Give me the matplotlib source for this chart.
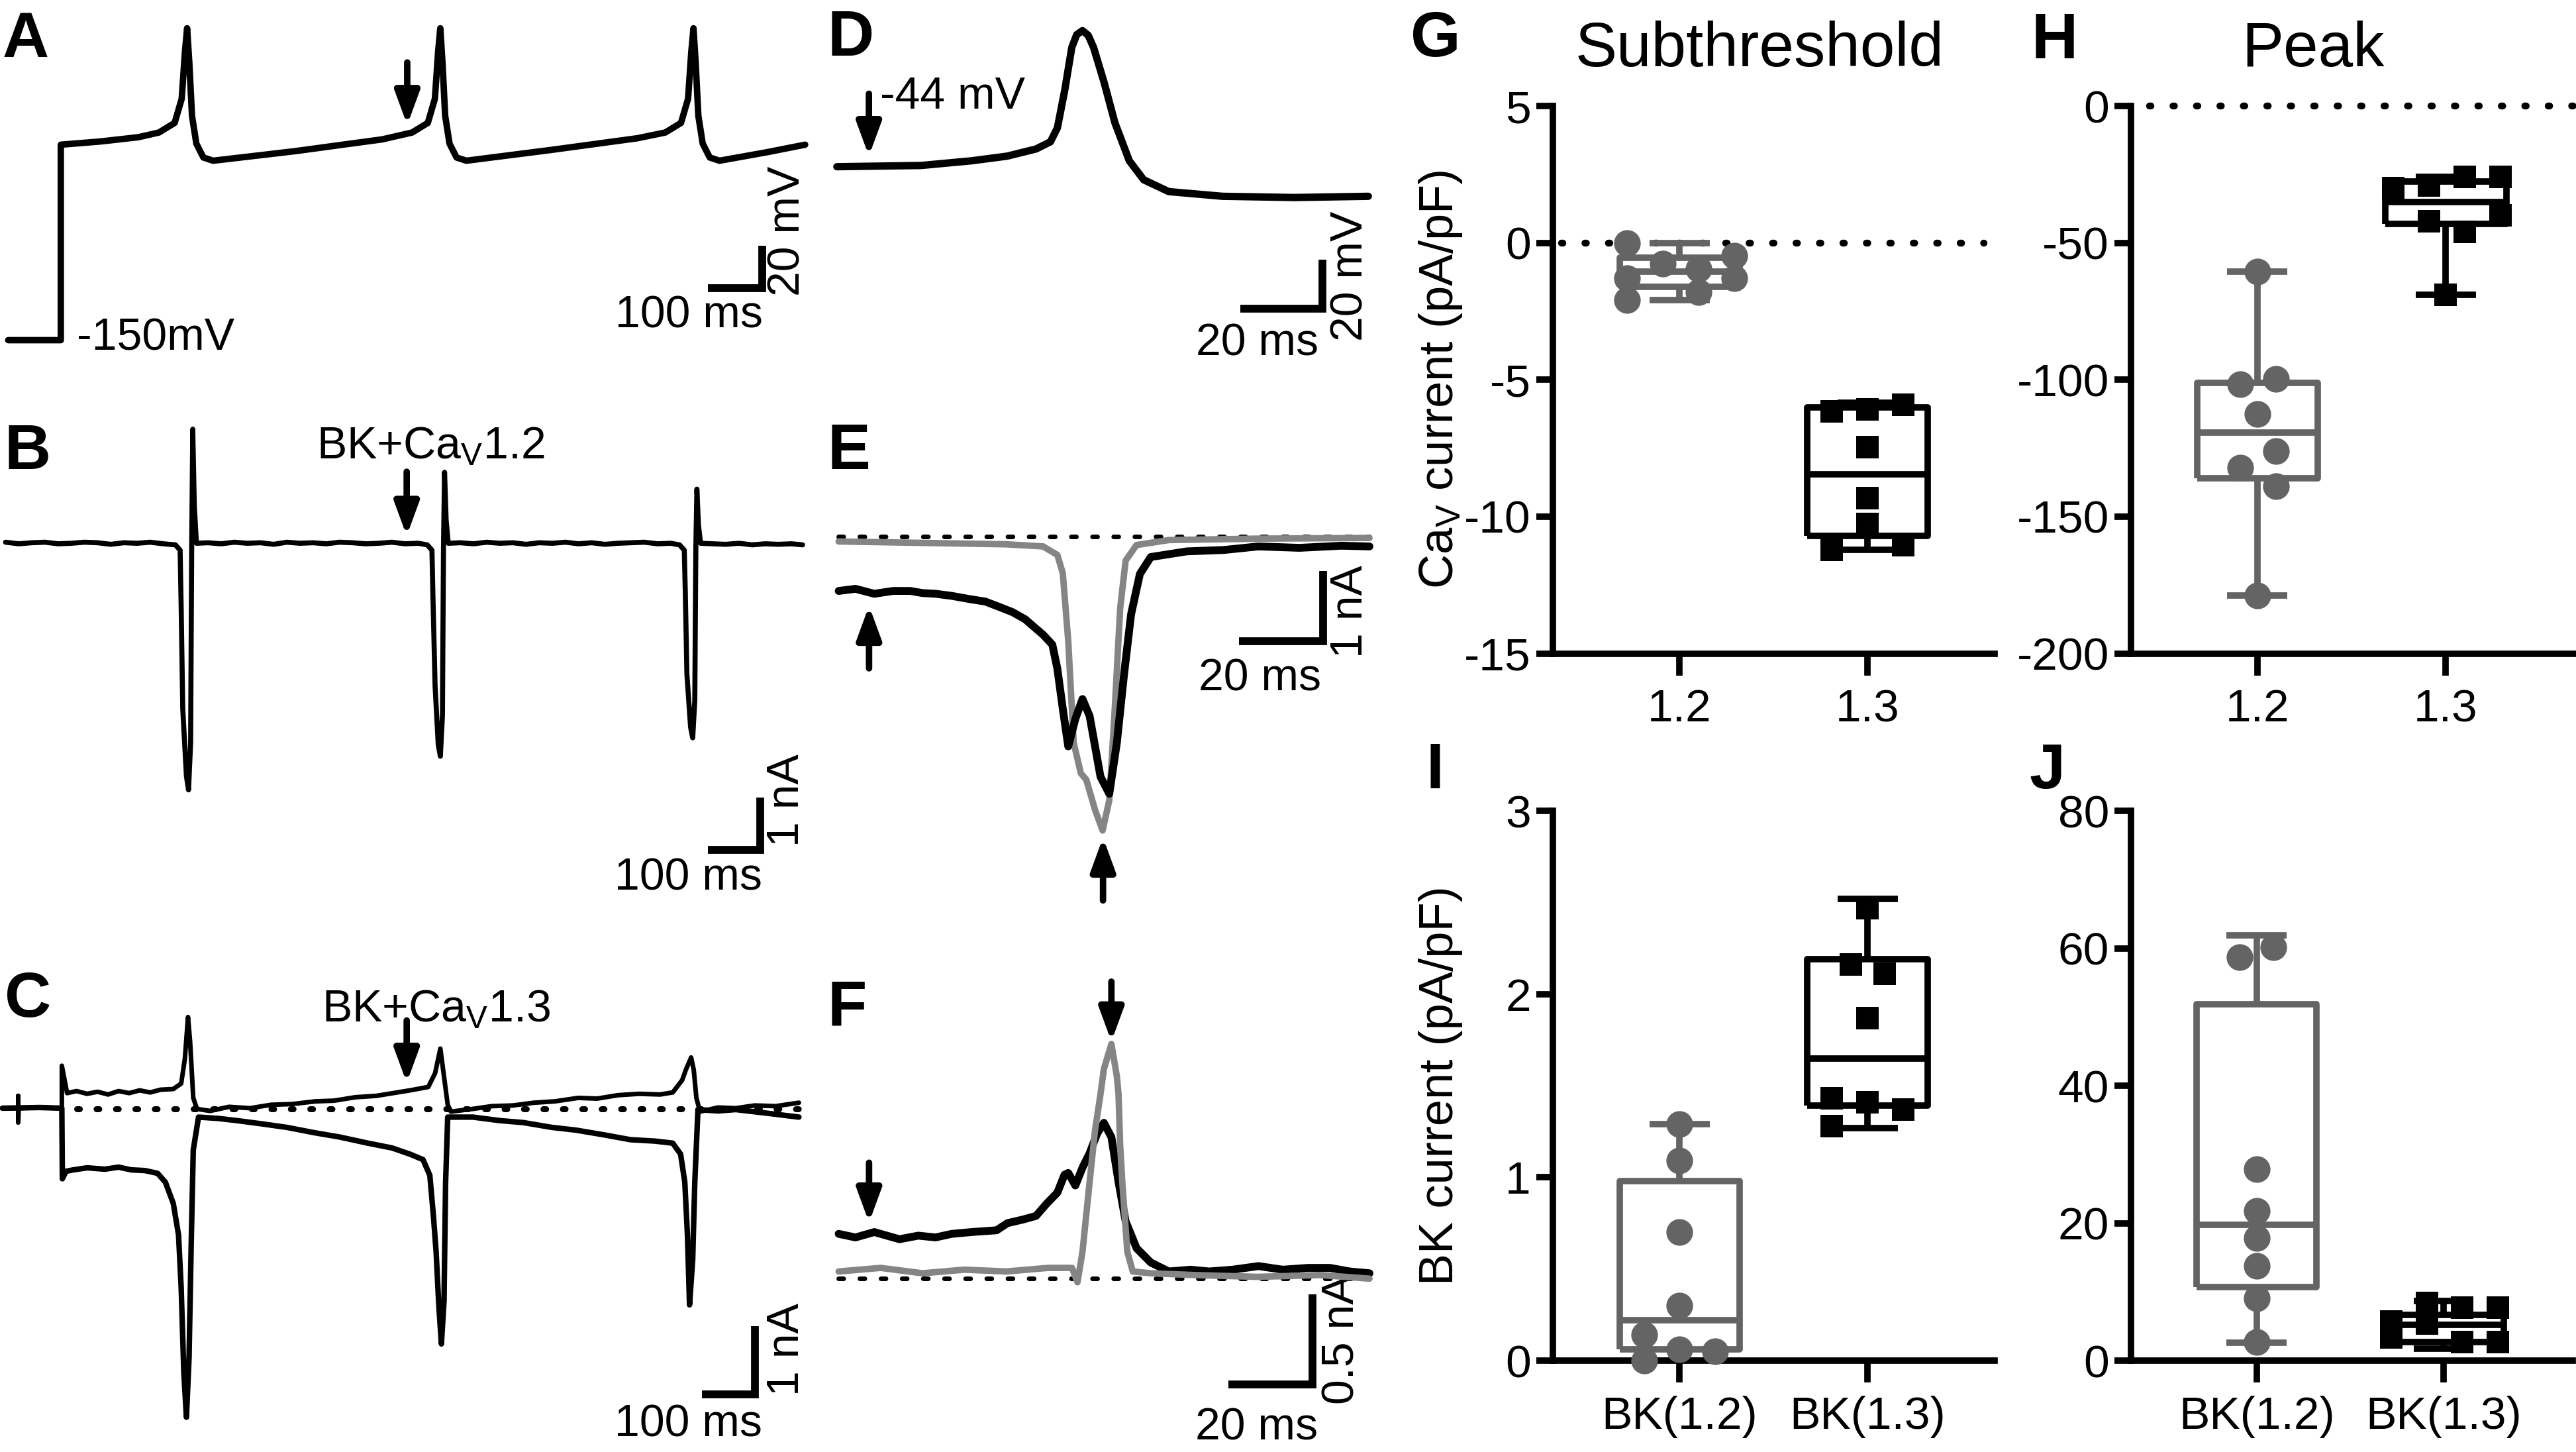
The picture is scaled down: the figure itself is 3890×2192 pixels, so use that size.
import matplotlib
matplotlib.use('Agg')
import matplotlib.pyplot as plt

plt.rcParams['font.family'] = ['Liberation Sans', 'DejaVu Sans']
plt.rcParams['axes.unicode_minus'] = False
plt.rcParams['mathtext.fontset'] = 'custom'
plt.rcParams['mathtext.rm'] = 'Liberation Sans'
plt.rcParams['mathtext.it'] = 'Liberation Sans:italic'
plt.rcParams['mathtext.bf'] = 'Liberation Sans:bold'

# ---------------- data ----------------
# A: current clamp, time (ms) / membrane potential (mV)
A_t = [0, 97, 97, 170, 240, 278, 307, 320, 326, 330, 334, 339, 347, 360, 378, 530, 690,
       745, 774, 787, 793, 797, 801, 806, 814, 827, 845, 1000, 1160,
       1212, 1241, 1254, 1260, 1264, 1268, 1273, 1281, 1294, 1312, 1400, 1470]
A_v = [-150, -150, -58.5, -57.0, -55.0, -52.8, -48.3, -37.0, -15.0, -4.0, -20.0, -45.0, -58.0,
       -64.5, -66.0, -61.5, -56.0, -52.8, -48.3, -37.0, -15.0, -4.0, -20.0, -45.0, -58.0, -64.5,
       -66.0, -61.0, -55.5, -52.8, -48.3, -37.0, -15.0, -4.0, -20.0, -45.0, -58.0, -64.5, -66.0,
       -62.0, -58.5]

# B: AP-clamp current, BK + CaV1.2 (nA)
B_t = [-5, 20, 45, 70, 95, 120, 145, 170, 195, 220, 245, 270, 295,
       318, 327, 329, 332, 339, 343, 347, 348, 349, 351, 354, 358,
       380, 405, 430, 455, 480, 505, 530, 555, 580, 605, 630, 655, 680, 705, 730, 755, 780,
       797, 806, 808, 812, 818, 822, 826, 827, 828, 830, 833, 837,
       860, 885, 910, 935, 960, 985, 1010, 1035, 1060, 1085, 1110, 1135, 1160, 1185, 1210, 1235, 1260,
       1277, 1286, 1288, 1291, 1298, 1302, 1306, 1307, 1308, 1310, 1313, 1317,
       1340, 1365, 1390, 1415, 1440, 1465, 1490, 1511]
B_i = [0.02, -0.01, 0.01, 0.02, -0.01, 0.0, 0.02, 0.01, -0.02, 0.01, 0.0, 0.02, -0.01,
       -0.03, -0.13, -1.22, -3.15, -4.43, -4.69, -3.79, -1.87, -0.07, 2.17, 0.71, 0.0,
       0.01, -0.01, 0.02, 0.0, 0.01, -0.02, 0.02, 0.0, 0.01, -0.01, 0.02, 0.01, -0.01, 0.0,
       0.02, -0.01, 0.0,
       -0.03, -0.13, -1.05, -2.72, -3.83, -4.05, -3.27, -1.61, -0.07, 1.35, 0.44, 0.0,
       0.01, -0.01, 0.02, 0.0, 0.01, -0.02, 0.01, 0.0, 0.02, -0.01, 0.01, -0.02, 0.0, 0.01,
       0.02, -0.01, 0.0,
       -0.03, -0.13, -0.96, -2.49, -3.50, -3.70, -2.99, -1.48, -0.07, 1.03, 0.34, 0.0,
       -0.01, -0.02, 0.0, -0.03, -0.01, -0.02, -0.01, -0.03]

# C: AP-clamp currents, BK + CaV1.3 (two sweeps, nA)
C1_t = [-11, 14, 19, 19, 19, 20, 60, 102, 102, 112, 130, 150, 170, 190, 210, 230, 250, 270, 290,
        314, 329, 336, 342, 346, 352, 359, 384, 420, 460, 500, 540, 584, 620, 660, 700, 740, 764,
        799, 812, 822, 829, 836, 842, 884, 920, 960, 1000, 1040, 1084, 1120, 1160, 1200, 1240,
        1264, 1282, 1289, 1299, 1304, 1309, 1316, 1350, 1384, 1420, 1460, 1504]
C1_i = [0.01, 0.01, 0.01, 0.19, -0.20, 0.01, 0.02, 0.01, 0.63, 0.23, 0.26, 0.22, 0.25, 0.21, 0.26,
        0.23, 0.27, 0.24, 0.28, 0.29, 0.37, 0.73, 1.34, 0.98, 0.16, 0.00, -0.03, 0.03, 0.01, 0.06,
        0.07, 0.11, 0.12, 0.17, 0.19, 0.24, 0.27, 0.32, 0.52, 0.88, 0.47, 0.06, -0.04, 0.00, 0.04,
        0.05, 0.09, 0.11, 0.16, 0.15, 0.20, 0.22, 0.21, 0.24, 0.42, 0.57, 0.75, 0.57, 0.16, -0.04,
        0.02, 0.01, 0.05, 0.04, 0.09]
C2_t = [-11, 60, 102, 103, 110, 124, 150, 184, 210, 234, 260, 284, 299, 314, 324, 329, 334, 339,
        344, 348, 352, 362, 400, 434, 484, 530, 584, 630, 684, 730, 764, 789, 802, 809, 814, 819,
        824, 829, 832, 836, 884, 934, 980, 1034, 1080, 1134, 1184, 1230, 1264, 1279, 1287, 1292,
        1296, 1302, 1306, 1312, 1350, 1384, 1440, 1504]
C2_i = [0.01, 0.02, 0.01, -1.02, -0.91, -0.89, -0.86, -0.88, -0.85, -0.89, -0.90, -0.94, -1.07,
        -1.38, -1.84, -2.61, -3.84, -4.50, -3.63, -2.00, -0.60, -0.12, -0.14, -0.17, -0.22, -0.27,
        -0.35, -0.41, -0.50, -0.57, -0.66, -0.74, -0.97, -1.58, -2.09, -2.86, -3.43, -2.80, -1.07,
        -0.12, -0.12, -0.17, -0.20, -0.27, -0.31, -0.38, -0.45, -0.47, -0.50, -0.66, -1.07, -1.84,
        -2.86, -2.20, -1.07, -0.01, -0.03, -0.01, -0.06, -0.12]

# D: single AP waveform (ms / mV)
D_t = [0, 20.5, 32.8, 41.5, 48.5, 52, 53.7, 55.5, 57.2, 58.4, 59.8, 61.2, 62.5, 65.1, 67.7,
       71.2, 74.7, 80.8, 93.9, 111.4, 129.4]
D_v = [-44.5, -44.0, -42.1, -40.2, -37.3, -34.4, -28.7, -13.3, 3.9, 9.1, 10.7, 8.8, 3.9, -10.5,
       -26.7, -42.1, -49.8, -54.6, -56.5, -57.0, -56.5]

# E: CaV currents during the AP (grey = CaV1.2, black = CaV1.3), nA
E_gray_t = [0, 20, 40, 48.8, 52.2, 53.5, 54.8, 56.1, 57.8, 59.1, 61.2, 63.0, 64.6, 65.9, 67.2,
            68.5, 71.1, 78.8, 100, 126.7]
E_gray_i = [-0.07, -0.09, -0.11, -0.14, -0.26, -0.52, -1.48, -2.92, -3.35, -3.44, -3.87, -4.16,
            -3.73, -2.44, -1.01, -0.34, -0.12, -0.05, -0.03, -0.02]
E_blk_t = [0, 4, 8.5, 13, 17.1, 20, 23.1, 27, 31.7, 35, 38.5, 41.5, 44.5, 48.8, 51.0, 52.2, 53.5,
           54.8, 56.5, 58.2, 59.9, 62.5, 64.6, 66.4, 68.1, 69.8, 71.9, 74.5, 83.1, 92, 100.2, 110,
           120, 126.7]
E_blk_i = [-0.77, -0.74, -0.81, -0.77, -0.77, -0.80, -0.81, -0.84, -0.89, -0.92, -1.00, -1.07,
           -1.17, -1.39, -1.53, -1.87, -2.44, -2.97, -2.58, -2.30, -2.54, -3.40, -3.64, -2.92,
           -1.96, -1.10, -0.53, -0.29, -0.21, -0.19, -0.14, -0.16, -0.13, -0.14]

# F: BK currents during the AP (grey = with CaV1.2, black = with CaV1.3), nA
F_gray_t = [0, 10, 20, 30, 40, 50, 55.7, 57.0, 58.2, 59.9, 61.2, 62.5, 63.3, 65.1, 66.4, 66.8,
            67.2, 67.7, 68.9, 70.2, 74.5, 85, 100, 115, 126.7]
F_gray_i = [0.04, 0.06, 0.03, 0.05, 0.04, 0.06, 0.06, -0.02, 0.15, 0.54, 0.83, 1.03, 1.17, 1.31,
            1.13, 1.03, 0.74, 0.54, 0.15, 0.04, 0.03, 0.02, 0.01, 0.02, 0.00]
F_blk_t = [0, 4, 8.5, 14.5, 19, 23.1, 27, 31.7, 37.7, 40.3, 44, 47.1, 49.7, 52.2, 53.9, 54.8,
           56.5, 58.2, 59.9, 61.7, 63.3, 65.1, 66.8, 68.5, 71.1, 74.5, 78.8, 84, 88.4, 94, 100.2,
           106, 112, 117.3, 122, 126.7]
F_blk_i = [0.25, 0.23, 0.26, 0.22, 0.24, 0.23, 0.25, 0.26, 0.27, 0.31, 0.33, 0.35, 0.42, 0.48,
           0.58, 0.59, 0.52, 0.62, 0.70, 0.81, 0.87, 0.79, 0.54, 0.32, 0.17, 0.09, 0.04, 0.05,
           0.04, 0.05, 0.07, 0.05, 0.06, 0.06, 0.04, 0.03]

# G-J: box plots (points + min/max whisker box stats), pA/pF
cat_gh = ['1.2', '1.3']
cat_ij = ['BK(1.2)', 'BK(1.3)']

G12 = [0.0, -0.48, -0.77, -0.94, -1.28, -1.28, -1.80, -2.08]
G13 = [-6.16, -6.08, -5.91, -7.45, -9.33, -10.27, -11.04, -11.22]
G_stats = [dict(whislo=-2.08, q1=-1.60, med=-1.05, q3=-0.55, whishi=0.0),
           dict(whislo=-11.2, q1=-10.7, med=-8.45, q3=-6.0, whishi=-5.85)]

H12 = [-60.4, -101.5, -99.8, -112.6, -126.1, -132.1, -138.9, -178.8]
H13 = [-30, -29, -42, -26, -46, -26, -40, -69]
H_stats = [dict(whislo=-178.8, q1=-136.0, med=-119.4, q3=-101.2, whishi=-60.4),
           dict(whislo=-69.0, q1=-43.0, med=-35.0, q3=-27.7, whishi=-26.0)]

I12 = [1.29, 1.09, 0.70, 0.30, 0.14, 0.0, 0.06, 0.05]
I13 = [2.47, 2.16, 2.11, 1.87, 1.43, 1.41, 1.37, 1.28]
I_stats = [dict(whislo=0.0, q1=0.06, med=0.22, q3=0.98, whishi=1.29),
           dict(whislo=1.27, q1=1.39, med=1.65, q3=2.19, whishi=2.52)]

J12 = [58.7, 60.1, 27.9, 21.8, 17.8, 13.8, 9.1, 2.7]
J13 = [5.7, 3.4, 8.4, 5.4, 7.7, 2.7, 7.7, 2.7]
J_stats = [dict(whislo=2.6, q1=10.7, med=19.8, q3=51.9, whishi=61.9),
           dict(whislo=1.7, q1=2.7, med=5.2, q3=6.7, whishi=8.7)]

# horizontal scatter of the dots inside each group (category units)
G12_dx = [-0.28, 0.29, -0.09, 0.10, 0.29, -0.28, 0.10, -0.28]
G13_dx = [-0.19, 0.0, 0.19, 0.0, 0.0, 0.0, 0.19, -0.19]
H12_dx = [0.0, -0.09, 0.10, 0.0, 0.10, -0.09, 0.10, 0.0]
H13_dx = [-0.28, -0.09, -0.09, 0.10, 0.10, 0.29, 0.29, 0.0]
I12_dx = [0.0, 0.0, 0.0, 0.0, -0.19, -0.19, 0.0, 0.19]
I13_dx = [0.0, -0.09, 0.09, 0.0, -0.19, 0.0, 0.19, -0.19]
J12_dx = [-0.09, 0.09, 0.0, 0.0, 0.0, 0.0, 0.0, 0.0]
J13_dx = [-0.28, -0.28, -0.09, -0.09, 0.10, 0.10, 0.29, 0.29]

# ---------------- styling ----------------
GREY = '#646464'
TRACE_GREY = '#858585'
TS = 49          # trace annotation font size
TICK_FS = 50
BOX_LW = 7

WM, HM = 1568.0, 883.6   # layout grid (reference pixels at 1/2.48 scale)
fig = plt.figure(figsize=(38.9, 21.92), dpi=100)


def frac_box(x0, y0, x1, y1):
    return [x0 / WM, 1 - y1 / HM, (x1 - x0) / WM, (y1 - y0) / HM]


def ftext(x, y, s, **kw):
    fig.text(x / WM, 1 - y / HM, s, **kw)


def trace_ax(box, x_ref, px_per_t, y_ref, v_ref, px_per_v):
    x0, y0, x1, y1 = box
    ax = fig.add_axes(frac_box(*box))
    ax.set_xlim((x0 - x_ref) / px_per_t, (x1 - x_ref) / px_per_t)
    ax.set_ylim(v_ref + (y_ref - y1) / px_per_v, v_ref + (y_ref - y0) / px_per_v)
    ax.axis('off')
    return ax


def trace(ax, t, v, color='k', lw=5.0, z=3):
    ax.plot(t, v, color=color, lw=lw, solid_joinstyle='round', solid_capstyle='round',
            zorder=z, clip_on=False)


def dotted(ax, x, y, lw, on, off):
    ax.plot(x, y, color='k', lw=lw, ls=(0, (on, off)), dash_capstyle='round', zorder=2,
            clip_on=False)


def scale_bar(ax, t0, t1, v0, v1, xlab, xpos, ylab, ypos):
    ax.plot([t0, t1, t1], [v0, v0, v1], color='k', lw=8.5, solid_capstyle='butt',
            solid_joinstyle='miter', clip_on=False)
    ax.text(xpos[0], xpos[1], xlab, ha='center', va='center', fontsize=TS)
    ax.text(ypos[0], ypos[1], ylab, ha='center', va='center', rotation=90, fontsize=TS)


def arrow(ax, x, y_tail, y_tip):
    ax.annotate('', xy=(x, y_tip), xytext=(x, y_tail), annotation_clip=False,
                arrowprops=dict(arrowstyle='-|>,head_length=30,head_width=11', mutation_scale=1,
                                lw=7, color='k', shrinkA=0, shrinkB=0))


# ---------------- A ----------------
axA = trace_ax((0, 0, 500, 225), 5, 0.33, 207, -150, 1.3)
trace(axA, A_t, A_v, lw=7)
arrow(axA, 736, -20, -49.3)
axA.text(127, -149, '-150mV', ha='left', va='center', fontsize=TS)
scale_bar(axA, 1291, 1391, -125.8, -105.8, '100 ms', (1256, -138.5), '20 mV', (1438, -98.8))

# ---------------- B ----------------
axB = trace_ax((0, 240, 500, 548), 5, 0.32, 330.6, 0, 32)
trace(axB, B_t, B_i, lw=5.5)
arrow(axB, 758, 1.36, 0.14)
axB.text(587, 1.61, r'BK+Ca$_\mathregular{V}$1.2', ha='left', va='baseline', fontsize=TS)
scale_bar(axB, 1331, 1431, -5.83, -4.83, '100 ms', (1294, -6.36), '1 nA', (1481, -4.89))

# ---------------- C ----------------
axC = trace_ax((0, 548, 500, 883.6), 5, 0.32, 674.8, 0, 41.7)
dotted(axC, [131, 1522], [0, 0], 6.5, 0.45, 2.8)
trace(axC, C2_t, C2_i, lw=6)
trace(axC, C1_t, C1_i, lw=5)
arrow(axC, 758, 1.29, 0.38)
axC.text(597, 1.27, r'BK+Ca$_\mathregular{V}$1.3', ha='left', va='baseline', fontsize=TS)
scale_bar(axC, 1320, 1420, -4.17, -3.17, '100 ms', (1294, -4.61), '1 nA', (1481, -3.51))

# ---------------- D ----------------
axD = trace_ax((500, 0, 840, 235), 509.4, 2.5, 100.7, -44, 1.5)
trace(axD, D_t, D_v, lw=8)
arrow(axD, 7.8, -14.9, -40.2)
axD.text(10.5, -16.2, '-44 mV', ha='left', va='center', fontsize=TS)
scale_bar(axD, 98.3, 118.3, -102.1, -82.1, '20 ms', (102.4, -116.2), '20 mV', (125.0, -88.9))

# ---------------- E ----------------
axE = trace_ax((500, 240, 840, 560), 510.5, 2.55, 326.5, 0, 43)
dotted(axE, [0, 126.7], [0, 0], 5, 1.1, 3.5)
trace(axE, E_gray_t, E_gray_i, color=TRACE_GREY, lw=7, z=3)
trace(axE, E_blk_t, E_blk_i, lw=8.5, z=4)
arrow(axE, 7.25, -1.865, -0.98)
arrow(axE, 63.1, -5.15, -4.26)
scale_bar(axE, 95.6, 115.6, -1.484, -0.484, '20 ms', (100.5, -2.01), '1 nA', (122.1, -1.06))

# ---------------- F ----------------
axF = trace_ax((500, 580, 840, 883.6), 510.5, 2.55, 778.1, 0, 109)
dotted(axF, [0, 126.7], [0, 0], 5, 1.1, 3.5)
trace(axF, F_blk_t, F_blk_i, lw=8.5, z=3)
trace(axF, F_gray_t, F_gray_i, color=TRACE_GREY, lw=7, z=4)
arrow(axF, 65.1, 1.658, 1.324)
arrow(axF, 7.25, 0.647, 0.313)
scale_bar(axF, 93.1, 113.1, -0.589, -0.089, '20 ms', (99.8, -0.834), '0.5 nA', (120.2, -0.339))


# ---------------- box plots ----------------
def box_ax(box, xlim, ylim, yticks, ylabels, xlabels):
    ax = fig.add_axes(frac_box(*box))
    ax.set_xlim(*xlim)
    ax.set_ylim(*ylim)
    for s in ('top', 'right'):
        ax.spines[s].set_visible(False)
    for s in ('left', 'bottom'):
        ax.spines[s].set_linewidth(7)
    ax.set_yticks(yticks)
    ax.set_yticklabels(ylabels)
    ax.set_xticks([1, 2])
    ax.set_xticklabels(xlabels)
    ax.tick_params(axis='both', width=7, labelsize=TICK_FS, colors='k')
    ax.tick_params(axis='y', length=18, pad=6)
    ax.tick_params(axis='x', length=24, pad=14)
    return ax


def groups(ax, stats, v12, dx12, v13, dx13):
    for pos, st, col in ((1, stats[0], GREY), (2, stats[1], 'k')):
        s = dict(st, fliers=[])
        lp = dict(color=col, lw=BOX_LW, solid_capstyle='butt')
        ax.bxp([s], positions=[pos], widths=0.64, capwidths=0.32, showfliers=False,
               boxprops=lp, whiskerprops=lp, capprops=lp, medianprops=lp, manage_ticks=False)
    ax.plot([1 + d for d in dx12], v12, ls='none', marker='o', ms=29, mfc=GREY, mec=GREY,
            mew=0, zorder=5, clip_on=False)
    ax.plot([2 + d for d in dx13], v13, ls='none', marker='s', ms=24, mfc='k', mec='k',
            mew=0, zorder=5, clip_on=False)


axG = box_ax((945.3, 64.5, 1214, 397.7), (0.326, 2.675), (-15, 5),
             [5, 0, -5, -10, -15], ['5', '0', '-5', '-10', '-15'], cat_gh)
dotted(axG, [0.37, 2.62], [0, 0], 7.5, 0.2, 3.2)
groups(axG, G_stats, G12, G12_dx, G13, G13_dx)

axH = box_ax((1297.3, 64.5, 1568, 397.7), (0.332, 2.69), (-200, 0),
             [0, -50, -100, -150, -200], ['0', '-50', '-100', '-150', '-200'], cat_gh)
dotted(axH, [0.43, 2.69], [0, 0], 7.5, 0.2, 3.2)
groups(axH, H_stats, H12, H12_dx, H13, H13_dx)

axI = box_ax((945.3, 493.4, 1214, 828), (0.326, 2.675), (0, 3),
             [0, 1, 2, 3], ['0', '1', '2', '3'], cat_ij)
groups(axI, I_stats, I12, I12_dx, I13, I13_dx)

axJ = box_ax((1297.3, 493.4, 1566, 828), (0.33, 2.69), (0, 80),
             [0, 20, 40, 60, 80], ['0', '20', '40', '60', '80'], cat_ij)
groups(axJ, J_stats, J12, J12_dx, J13, J13_dx)

ftext(877, 231, r'Ca$_\mathregular{V}$ current (pA/pF)', rotation=90, ha='center', va='center',
      fontsize=52)
ftext(877, 660.7, 'BK current (pA/pF)', rotation=90, ha='center', va='center', fontsize=52)
ftext(1071, 40.3, 'Subthreshold', ha='center', va='baseline', fontsize=68)
ftext(1408, 40.3, 'Peak', ha='center', va='baseline', fontsize=68)

# panel letters
for letter, x, y in (('A', 1.6, 34.7), ('B', 2.8, 285.4), ('C', 2.8, 618.7),
                     ('D', 503.8, 33.9), ('E', 503.8, 285.4), ('F', 503.8, 624.0),
                     ('G', 858.5, 34.3), ('H', 1236.6, 35.5), ('I', 868.2, 479.6),
                     ('J', 1235.4, 479.6)):
    ftext(x, y, letter, ha='left', va='baseline', fontsize=70, fontweight='bold')

fig.savefig('out.png', dpi=100, facecolor='white')
